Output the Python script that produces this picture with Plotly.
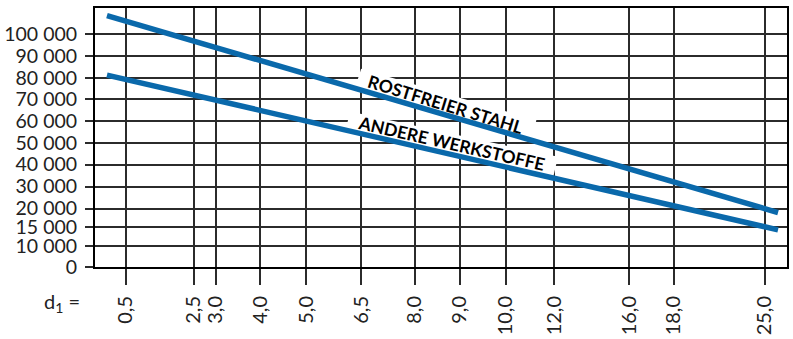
import numpy as np
import plotly.graph_objects as go

# Wire diameter d1 (mm) marked along the bottom axis
d_ticks = [0.5, 2.5, 3.0, 4.0, 5.0, 6.5, 8.0, 9.0, 10.0, 12.0, 16.0, 18.0, 25.0]
d_labels = ["0,5", "2,5", "3,0", "4,0", "5,0", "6,5", "8,0", "9,0",
            "10,0", "12,0", "16,0", "18,0", "25,0"]

# Values on the left axis
f_ticks = [0, 10000, 15000, 20000, 30000, 40000, 50000, 60000,
           70000, 80000, 90000, 100000]
f_labels = ["0", "10 000", "15 000", "20 000", "30 000", "40 000", "50 000",
            "60 000", "70 000", "80 000", "90 000", "100 000"]

# The two characteristic lines, given at the smallest and largest diameter
line_d = [0.5, 25.0]
rostfrei_f = [106000, 20000]
andere_f = [79500, 15000]

# ---- nonlinear chart scales (piecewise linear between ticks) ----
D_SCALE = [31, 99, 121, 166, 212, 267, 321, 366, 412, 461, 536, 581, 672]
F_SCALE = [0, 22, 42, 61, 84, 107, 129, 152, 175, 197, 220, 243]
X_RANGE = [0, 694.5]
Y_RANGE = [0, 270.5]


def piecewise(vals, src, dst):
    vals = np.asarray(vals, dtype=float)
    src = np.asarray(src, dtype=float)
    dst = np.asarray(dst, dtype=float)
    out = np.interp(vals, src, dst)
    lo = vals < src[0]
    hi = vals > src[-1]
    out[lo] = dst[0] + (vals[lo] - src[0]) * (dst[1] - dst[0]) / (src[1] - src[0])
    out[hi] = dst[-1] + (vals[hi] - src[-1]) * (dst[-1] - dst[-2]) / (src[-1] - src[-2])
    return out


def sx(d):
    return piecewise(d, d_ticks, D_SCALE)


def sy(f):
    return piecewise(f, f_ticks, F_SCALE)


# lines run a little past the outermost diameter marks
OVERHANG = (19.0, 13.5)


def extended(xs, ys):
    x0, x1 = xs
    y0, y1 = ys
    k = (y1 - y0) / (x1 - x0)
    xa, xb = x0 - OVERHANG[0], x1 + OVERHANG[1]
    return [xa, xb], [y0 + k * (xa - x0), y0 + k * (xb - x0)]


BLUE = "#0a69ab"
GRID = "#2b2b2b"
FONT = "Lato"

fig = go.Figure()
for name, vals in [("Rostfreier Stahl", rostfrei_f), ("Andere Werkstoffe", andere_f)]:
    ex, ey = extended(sx(line_d), sy(vals))
    fig.add_trace(go.Scatter(x=ex, y=ey, mode="lines", name=name,
                             line=dict(color=BLUE, width=5.5),
                             hoverinfo="skip", showlegend=False))

# line captions on white rotated boxes (between grid and lines)
captions = [
    ("ROSTFREIER STAHL", 352, 170, 17.0, 184, 21),
    ("ANDERE WERKSTOFFE", 358, 128.5, 12.8, 214, 21),
]
shapes = []
annotations = []
for text, cu, cv, ang, w, h in captions:
    t = np.radians(ang)
    ax = np.array([np.cos(t), -np.sin(t)])
    ay = np.array([np.sin(t), np.cos(t)])
    c = np.array([cu, cv])
    pts = [c + sa * w / 2 * ax + sb * h / 2 * ay
           for sa, sb in [(-1, -1), (1, -1), (1, 1), (-1, 1)]]
    path = "M " + " L ".join(f"{p[0]:.2f},{p[1]:.2f}" for p in pts) + " Z"
    shapes.append(dict(type="path", path=path, xref="x", yref="y",
                       fillcolor="white", line=dict(width=0), layer="between"))
    annotations.append(dict(x=cu, y=cv, xref="x", yref="y", text=f"<b>{text}</b>",
                            showarrow=False, textangle=ang,
                            font=dict(family=FONT, size=17.5, color="black")))

# "d1 =" caption to the left of the diameter labels
W, H = 793, 339
ML, MR, MT, MB = 95, 4, 8, 60
pw, ph = W - ML - MR, H - MT - MB
annotations.append(dict(x=(62 - ML) / pw, y=(H - MB - 316) / ph,
                        xref="paper", yref="paper", xanchor="center", yanchor="middle",
                        text="d<sub>1</sub> =", showarrow=False,
                        font=dict(family=FONT, size=20, color="#222")))

fig.update_layout(
    width=W, height=H,
    margin=dict(l=ML, r=MR, t=MT, b=MB),
    plot_bgcolor="white", paper_bgcolor="white",
    shapes=shapes, annotations=annotations,
    xaxis=dict(range=X_RANGE, tickvals=sx(d_ticks), ticktext=d_labels,
               tickangle=-90, ticks="outside", ticklen=16, tickwidth=1.5,
               tickcolor=GRID, showgrid=True, gridcolor=GRID, gridwidth=1.5,
               zeroline=False, showline=True, linecolor="black", linewidth=2,
               mirror=True, tickfont=dict(family=FONT, size=20, color="#222"),
               ticklabelstandoff=3),
    yaxis=dict(range=Y_RANGE, tickvals=sy(f_ticks), ticktext=f_labels,
               ticks="outside", ticklen=8, tickwidth=1.5, tickcolor=GRID,
               showgrid=True, gridcolor=GRID, gridwidth=1.5, zeroline=False,
               showline=True, linecolor="black", linewidth=2, mirror=True,
               tickfont=dict(family=FONT, size=19.5, color="#222"),
               ticklabelstandoff=4),
)

fig.write_html("out.html")
